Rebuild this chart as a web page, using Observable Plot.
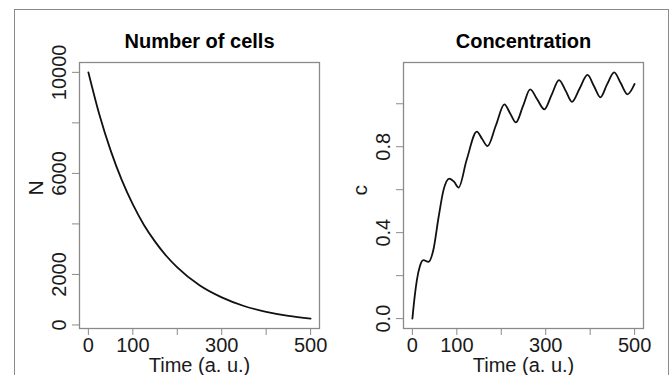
<!DOCTYPE html>
<html>
<head>
<meta charset="utf-8">
<script src="https://cdn.jsdelivr.net/npm/d3@7"></script>
<script src="https://cdn.jsdelivr.net/npm/@observablehq/plot@0.6"></script>
<style>
  html, body { margin: 0; padding: 0; background: #fff; overflow: hidden; }
  #wrap { position: relative; width: 669px; height: 375px; overflow: hidden; background: #fff; }
  #border { position: absolute; left: 14px; top: 9px; width: 655px; height: 420px; border: 1.5px solid #8a8a8a; box-sizing: border-box; }
  #left { position: absolute; left: 0; top: 0; }
  #right { position: absolute; left: 335px; top: 0; }
  svg { overflow: visible; }
</style>
</head>
<body>
<div id="wrap">
  <div id="border"></div>
  <div id="left"></div>
  <div id="right"></div>
</div>
<script>
// ---- Data ----
const cellTime  = [0, 25, 50, 75, 100, 125, 150, 175, 200, 250, 300, 350, 400, 450, 500];
const cellCount = [10000, 8310, 6910, 5740, 4770, 3960, 3300, 2740, 2280, 1570, 1090, 750, 520, 360, 250];

const concTime  = [0, 5, 10, 17, 25, 36, 47, 59, 70, 83, 94, 104, 122, 145, 157, 169, 188, 207, 220, 233, 249, 265, 281, 297, 313, 330, 345, 359, 376, 394, 409, 423, 438, 454, 469, 484, 500];
const concValue = [0, 0.10, 0.178, 0.245, 0.272, 0.264, 0.318, 0.473, 0.598, 0.652, 0.636, 0.610, 0.738, 0.870, 0.836, 0.803, 0.90, 0.997, 0.955, 0.913, 0.99, 1.067, 1.02, 0.974, 1.04, 1.11, 1.06, 1.009, 1.07, 1.134, 1.08, 1.030, 1.09, 1.146, 1.095, 1.044, 1.092];

const xTicks = [0, 100, 200, 300, 400, 500];
const xTickLabels = [0, 100, 300, 500];
const nTicks = [0, 2000, 4000, 6000, 8000, 10000];
const nTickLabels = [0, 2000, 6000, 10000];
const cTicks = [0, 0.2, 0.4, 0.6, 0.8, 1.0];
const cTickLabels = [0, 0.4, 0.8];

const titles = ["Number of cells", "Concentration"];
const yLabels = ["N", "c"];
const xLabel = "Time (a. u.)";

const cellData = cellTime.map((t, i) => ({t, v: cellCount[i]}));
const concData = concTime.map((t, i) => ({t, v: concValue[i]}));

const FONT = "'Liberation Sans', Arial, Helvetica, sans-serif";
const GRAY = "#8a8a8a";
const INK = "#1a1a1a";
const FS = 20;

function panel({data, yDomain, yTicks, yTickLabels, yFmt, title, ylab, width, marginLeft, marginRight}) {
  return Plot.plot({
    width, height: 375,
    marginLeft, marginRight, marginTop: 62, marginBottom: 47,
    style: {fontFamily: FONT, fontSize: FS + "px", background: "transparent", overflow: "visible"},
    x: {domain: [-20, 520]},
    y: {domain: yDomain},
    marks: [
      Plot.frame({stroke: GRAY, strokeWidth: 1.3}),
      Plot.axisX({ticks: xTicks, tickSize: 7, tickPadding: 2, stroke: GRAY, fill: INK, fontSize: FS,
        tickFormat: d => xTickLabels.includes(d) ? String(d) : "", label: null}),
      Plot.axisY({ticks: yTicks, tickSize: 7, stroke: GRAY, tickFormat: () => "", label: null}),
      Plot.text(yTickLabels, {y: d => d, text: d => yFmt(d), frameAnchor: "left", dx: -20, rotate: -90,
        textAnchor: "middle", lineAnchor: "middle", fill: INK, fontSize: FS}),
      Plot.text([xLabel], {frameAnchor: "bottom", dy: 43, lineAnchor: "bottom", fill: INK, fontSize: FS}),
      Plot.text([ylab], {frameAnchor: "left", dx: -43, rotate: -90, lineAnchor: "middle", fill: INK, fontSize: FS + 1}),
      Plot.text([title], {frameAnchor: "top", dy: -15, lineAnchor: "bottom", fontWeight: "bold", fill: "#000", fontSize: FS}),
      Plot.line(data, {x: "t", y: "v", curve: "monotone-x", stroke: "#111", strokeWidth: 1.8})
    ]
  });
}

document.getElementById("left").append(panel({
  data: cellData, yDomain: [-140, 10390], yTicks: nTicks, yTickLabels: nTickLabels,
  yFmt: d => String(d), title: titles[0], ylab: yLabels[0],
  width: 335, marginLeft: 79, marginRight: 16
}));
document.getElementById("right").append(panel({
  data: concData, yDomain: [-0.046, 1.192], yTicks: cTicks, yTickLabels: cTickLabels,
  yFmt: d => d.toFixed(1), title: titles[1], ylab: yLabels[1],
  width: 334, marginLeft: 68, marginRight: 26
}));
</script>
</body>
</html>
